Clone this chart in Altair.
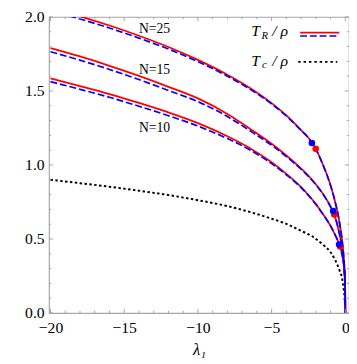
import altair as alt
import pandas as pd

# ---------------- data ----------------
lam = [-20, -18, -16, -14, -12, -10, -8, -6.5, -5, -4, -3, -2.5, -2, -1.5, -1,
       -0.7, -0.45, -0.25, -0.12, -0.05, -0.015, 0]

red_n25 = [2.063, 2.004, 1.942, 1.873, 1.797, 1.710, 1.610, 1.522, 1.418, 1.335, 1.236, 1.184,
           1.107, 0.998, 0.862, 0.755, 0.642, 0.516, 0.393, 0.285, 0.182, 0]
blue_n25 = [2.043, 1.986, 1.925, 1.857, 1.783, 1.698, 1.600, 1.514, 1.412, 1.331, 1.233, 1.182,
            1.106, 0.997, 0.862, 0.755, 0.642, 0.516, 0.393, 0.285, 0.182, 0]

red_n15 = [1.790, 1.733, 1.670, 1.602, 1.528, 1.450, 1.345, 1.247, 1.143, 1.064, 0.976, 0.927,
           0.870, 0.803, 0.718, 0.651, 0.558, 0.454, 0.351, 0.259, 0.170, 0]
blue_n15 = [1.765, 1.708, 1.645, 1.577, 1.503, 1.428, 1.327, 1.233, 1.133, 1.057, 0.971, 0.923,
            0.867, 0.801, 0.717, 0.651, 0.558, 0.454, 0.351, 0.259, 0.170, 0]

red_n10 = [1.585, 1.533, 1.479, 1.419, 1.355, 1.283, 1.194, 1.115, 1.018, 0.940, 0.851, 0.797,
           0.736, 0.665, 0.588, 0.529, 0.473, 0.409, 0.340, 0.273, 0.202, 0]
blue_n10 = [1.563, 1.511, 1.457, 1.397, 1.333, 1.263, 1.178, 1.103, 1.009, 0.934, 0.847, 0.794,
            0.734, 0.664, 0.588, 0.529, 0.473, 0.409, 0.340, 0.273, 0.202, 0]

tc_lam = [-20, -18, -16, -14, -12, -10, -8, -6.5, -5, -4, -3, -2.2, -1.5, -1, -0.7,
          -0.4, -0.22, -0.11, -0.05, -0.02, 0]
tc_val = [0.90, 0.877, 0.853, 0.826, 0.797, 0.762, 0.722, 0.683, 0.637, 0.602, 0.555,
          0.515, 0.46, 0.41, 0.36, 0.29, 0.235, 0.16, 0.10, 0.055, 0]

red_dot_lam = [-2.01, -0.75, -0.35]
red_dot_val = [1.109, 0.665, 0.45]
blue_dot_lam = [-2.27, -0.82, -0.42]
blue_dot_val = [1.148, 0.689, 0.463]

n_labels = ["N=25", "N=15", "N=10"]
n_label_lam = [-12.94, -12.94, -12.94]
n_label_val = [1.92, 1.64, 1.25]

x_major = [-20, -15, -10, -5, 0]
x_minor = [-19, -18, -17, -16, -14, -13, -12, -11, -9, -8, -7, -6, -4, -3, -2, -1]
y_major = [0, 0.5, 1.0, 1.5, 2.0]
y_minor = [0.1, 0.2, 0.3, 0.4, 0.6, 0.7, 0.8, 0.9, 1.1, 1.2, 1.3, 1.4, 1.6, 1.7, 1.8, 1.9]

# ---------------- layout ----------------
W, H = 307, 303
FONT = "Liberation Serif"
FRAME = "#a6a6a6"
MAJ, MIN = 4.3, 2.3

xs = alt.Scale(domain=[-20.1, 0.25], nice=False, zero=False)
ys = alt.Scale(domain=[0, 2], nice=False, zero=True)

x_axis = alt.Axis(values=x_major, ticks=False, tickSize=0, domain=False, grid=False,
                  labelFont=FONT, labelFontSize=16, labelColor="black", labelPadding=7,
                  labelExpr="datum.value < 0 ? '\u2212' + format(-datum.value, 'd') : format(datum.value, 'd')",
                  title="\u03bb\u2081", titleFont=FONT, titleFontSize=17,
                  titleFontStyle="italic", titleFontWeight="normal", titleColor="black",
                  titlePadding=6)
y_axis = alt.Axis(values=y_major, ticks=False, tickSize=0, domain=False, grid=False,
                  format=".1f", labelFont=FONT, labelFontSize=16, labelColor="black",
                  labelPadding=5, title=None)

X = alt.X("lam:Q", scale=xs, axis=x_axis)
Y = alt.Y("val:Q", scale=ys, axis=y_axis)


def long(lst_by_n):
    rows = []
    for n, vals in lst_by_n:
        for l, v in zip(lam, vals):
            rows.append({"lam": l, "val": v, "N": n})
    return pd.DataFrame(rows)


red_df = long([(25, red_n25), (15, red_n15), (10, red_n10)])
blue_df = long([(25, blue_n25), (15, blue_n15), (10, blue_n10)])
tc_df = pd.DataFrame({"lam": tc_lam, "val": tc_val})
red_dots = pd.DataFrame({"lam": red_dot_lam, "val": red_dot_val})
blue_dots = pd.DataFrame({"lam": blue_dot_lam, "val": blue_dot_val})
lab_df = pd.DataFrame({"lam": n_label_lam, "val": n_label_val, "t": n_labels})

tc_line = alt.Chart(tc_df).mark_line(color="black", strokeWidth=2, strokeDash=[2.5, 2.5],
                                     interpolate="monotone", clip=True).encode(x=X, y=Y)

red_lines = alt.Chart(red_df).mark_line(color="#ff0000", strokeWidth=1.8, clip=True,
                                        interpolate="monotone").encode(x=X, y=Y, detail="N:N")
blue_lines = alt.Chart(blue_df).mark_line(color="#0000ff", strokeWidth=1.7, strokeDash=[7, 3],
                                          interpolate="monotone", clip=True).encode(
    x=X, y=Y, detail="N:N")

red_pts = alt.Chart(red_dots).mark_circle(color="#ff0000", size=45, opacity=1).encode(x=X, y=Y)
blue_pts = alt.Chart(blue_dots).mark_circle(color="#0000ff", size=45, opacity=1).encode(x=X, y=Y)

labels = alt.Chart(lab_df).mark_text(font=FONT, fontSize=14, color="black").encode(
    x=X, y=Y, text="t:N")

# frame ticks (pointing inward)
xmaj_df = pd.DataFrame({"lam": x_major})
xmin_df = pd.DataFrame({"lam": x_minor})
ymaj_df = pd.DataFrame({"val": y_major})
ymin_df = pd.DataFrame({"val": y_minor})


def xticks(df, ln, top):
    y0 = 0 if top else H
    y1 = ln if top else H - ln
    return alt.Chart(df).mark_rule(color=FRAME, strokeWidth=1).encode(
        x=X, y=alt.value(y0), y2=alt.value(y1))


def yticks(df, ln, right):
    x0 = W if right else 0
    x1 = W - ln if right else ln
    return alt.Chart(df).mark_rule(color=FRAME, strokeWidth=1).encode(
        y=Y, x=alt.value(x0), x2=alt.value(x1))


ticks = [xticks(xmaj_df, MAJ, False), xticks(xmin_df, MIN, False),
         xticks(xmaj_df, MAJ, True), xticks(xmin_df, MIN, True),
         yticks(ymaj_df, MAJ, False), yticks(ymin_df, MIN, False),
         yticks(ymaj_df, MAJ, True), yticks(ymin_df, MIN, True)]

# legend
one = pd.DataFrame({"k": [0]})


def txt(s, x, y, size):
    return alt.Chart(one).mark_text(text=s, font=FONT, fontSize=size, fontStyle="italic",
                                    align="left", baseline="alphabetic", color="black").encode(
        x=alt.value(x), y=alt.value(y))


legend = [
    txt("T", 207, 20, 16), txt("R", 217.5, 22.5, 11), txt("/ \u03c1", 228.5, 20, 16),
    txt("T", 207, 50, 16), txt("c", 218, 52.5, 11), txt("/ \u03c1", 228.5, 50, 16),
    alt.Chart(one).mark_rule(color="#ff0000", strokeWidth=1.8).encode(
        x=alt.value(257), x2=alt.value(297), y=alt.value(16)),
    alt.Chart(one).mark_rule(color="#0000ff", strokeWidth=1.7, strokeDash=[7, 3]).encode(
        x=alt.value(257), x2=alt.value(297), y=alt.value(19.5)),
    alt.Chart(one).mark_rule(color="black", strokeWidth=2, strokeDash=[2.5, 3]).encode(
        x=alt.value(255), x2=alt.value(295), y=alt.value(46)),
]

chart = alt.layer(
    tc_line, red_lines, blue_lines, red_pts, blue_pts, labels, *ticks, *legend
).properties(
    width=W, height=H,
    autosize=alt.AutoSizeParams(type="none"),
    padding={"left": 42, "top": 5, "right": 0, "bottom": 46},
).configure_view(
    stroke=FRAME, strokeWidth=1.2
)

chart.save("out.html", embed_options={"renderer": "svg", "actions": False})
